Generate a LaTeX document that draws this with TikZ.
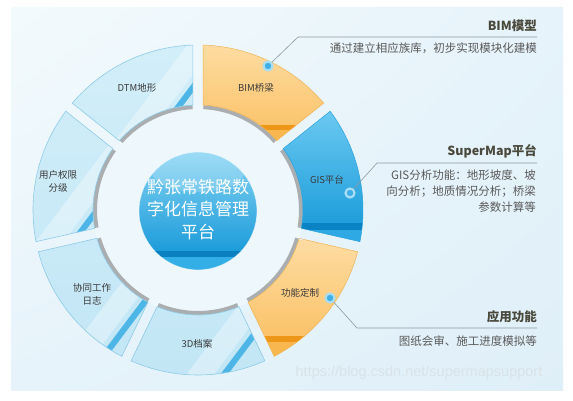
\documentclass[tikz,border=0pt]{standalone}
\usepackage{fontspec}
\setmainfont{Noto Sans CJK SC}
\newfontfamily\wmfont{Liberation Sans}
\usetikzlibrary{calc,shadings}
\definecolor{bgUL}{HTML}{F3FAFD}
\definecolor{bgUR}{HTML}{E6F3FA}
\definecolor{bgLL}{HTML}{E6F3FA}
\definecolor{bgLR}{HTML}{DFEFF8}
\definecolor{diskC}{HTML}{EEF8FC}
\definecolor{segTop}{HTML}{D2EEF9}
\definecolor{segBot}{HTML}{C2E6F5}
\definecolor{segLb}{HTML}{8DCBE6}
\definecolor{stripeC}{HTML}{4DB6E6}
\definecolor{shadowC}{HTML}{ABAEB0}
\definecolor{orTop}{HTML}{FDDCA2}
\definecolor{orBot}{HTML}{FBC36A}
\definecolor{orBand}{HTML}{EE9618}
\definecolor{orLow}{HTML}{F9B84F}
\definecolor{orB}{HTML}{F0B458}
\definecolor{gisTop}{HTML}{6CC9F1}
\definecolor{gisBot}{HTML}{1E9EDB}
\definecolor{gisBand}{HTML}{0B82C3}
\definecolor{gisLow}{HTML}{2EA9E3}
\definecolor{gisB}{HTML}{2AA2DC}
\definecolor{sphTop}{HTML}{86D4F4}
\definecolor{sphBot}{HTML}{1D9CDA}
\definecolor{sphBand}{HTML}{0A80C1}
\definecolor{sphLow}{HTML}{34AEE6}
\definecolor{dotOut}{HTML}{A9DDF4}
\definecolor{dotIn}{HTML}{3FAFE7}
\definecolor{lineC}{HTML}{8C9AA3}
\definecolor{labelC}{HTML}{3A3A3A}
\definecolor{titleC}{HTML}{4A4A3C}
\definecolor{descC}{HTML}{5A5A5A}
\definecolor{wmC}{HTML}{D9E3E8}

\newcommand\segpath[2]{({#1+1.8}:165) arc[start angle={#1+1.8}, end angle={#2-1.8}, radius=165] -- ({#2-2.8}:105) arc[start angle={#2-2.8}, end angle={#1+2.8}, radius=105] -- cycle}
\newcommand\shadowarc[2]{\draw[shadowC, line width=4pt] ({#1+3}:103) arc[start angle={#1+3}, end angle={#2-3}, radius=103];}
\newcommand\lightseg[4]{%
  \shadowarc{#1}{#2}
  \begin{scope}
    \clip \segpath{#1}{#2};
    \shade[top color=segTop, bottom color=segBot] (-170,170) rectangle (170,-170);
    \fill[white, opacity=.35] ($(#3,#4)+(143:8)+(233:160)$) -- ($(#3,#4)+(143:8)+(53:160)$) -- ($(#3,#4)+(143:30)+(53:160)$) -- ($(#3,#4)+(143:30)+(233:160)$) -- cycle;
    \draw[stripeC, line width=6pt] ($(#3,#4)+(233:160)$) -- ($(#3,#4)+(53:160)$);
  \end{scope}
  \draw[segLb, line width=.6pt] \segpath{#1}{#2};
}

\tikzset{
  lab/.style={font=\fontsize{9.5}{12.5}\selectfont, text=labelC, align=center, inner sep=0pt},
  ttl/.style={font=\fontsize{12.5}{15}\selectfont\bfseries, text=titleC, anchor=east, inner sep=0pt},
  desc/.style={font=\fontsize{11.5}{16}\selectfont, text=descC, anchor=east, align=right, inner sep=0pt},
  conn/.style={draw=lineC, line width=.6pt},
  dotnode/.style={circle, fill=dotIn, draw=dotOut, line width=2.2pt, minimum size=9pt, inner sep=0pt}
}

\begin{document}
\begin{tikzpicture}[x=1pt,y=1pt]
\useasboundingbox (0,0) rectangle (573,-401);
\fill[white] (0,0) rectangle (573,-401);
\shade[upper left=bgUL, upper right=bgUR, lower left=bgLL, lower right=bgLR] (11,-8) rectangle (563,-390);

\begin{scope}[shift={(198,-210)}]
  \fill[diskC] (0,0) circle (105);
  % light segments
  \lightseg{90}{141.43}{-10}{116}
  \lightseg{141.43}{192.86}{-109}{-11}
  \lightseg{-167.14}{-115.71}{-73}{-118}
  \lightseg{-115.71}{-64.29}{43}{-142}
  % BIM (orange)
  \shadowarc{38.57}{90}
  \begin{scope}
    \clip \segpath{38.57}{90};
    \shade[top color=orTop, bottom color=orBot] (0,166) rectangle (170,80);
    \fill[orBand] (0,84.5) rectangle (170,79.5);
    \fill[orLow] (0,79.5) rectangle (170,60);
  \end{scope}
  \draw[orB, line width=.5pt] \segpath{38.57}{90};
  % GIS (blue)
  \shadowarc{-12.86}{38.57}
  \begin{scope}
    \clip \segpath{-12.86}{38.57};
    \shade[top color=gisTop, bottom color=gisBot] (0,100) rectangle (170,-14);
    \fill[gisBand] (0,-13) rectangle (170,-20);
    \fill[gisLow] (0,-20) rectangle (170,-40);
  \end{scope}
  \draw[gisB, line width=.5pt] \segpath{-12.86}{38.57};
  % function (orange)
  \shadowarc{-64.29}{-12.86}
  \begin{scope}
    \clip \segpath{-64.29}{-12.86};
    \shade[top color=orTop, bottom color=orBot] (0,-30) rectangle (170,-126);
    \fill[orBand] (0,-126) rectangle (170,-132);
    \fill[orLow] (0,-132) rectangle (170,-160);
  \end{scope}
  \draw[orB, line width=.5pt] \segpath{-64.29}{-12.86};
  % central sphere
  \begin{scope}
    \clip (0,-1) circle (59);
    \shade[top color=sphTop, bottom color=sphBot] (-60,58) rectangle (60,-41);
    \fill[sphBand] (-60,-41) rectangle (60,-47);
    \fill[sphLow] (-60,-47) rectangle (60,-61);
    \fill[white, opacity=.18] (0,38) ellipse (46 and 20);
  \end{scope}
  \draw[white, opacity=.6, line width=.8pt] (0,-1) circle (59);
\end{scope}

% central text
\node[font=\fontsize{17}{22.5}\selectfont, text=white, align=center, inner sep=0pt] (center) at (198,-209) {黔张常铁路数\\字化信息管理\\平台};

% segment labels
\node[lab] (dtm) at (137,-88) {DTM地形};
\node[lab] (bim) at (256,-88) {BIM桥梁};
\node[lab] (gis) at (327,-180) {GIS平台};
\node[lab] (func) at (300,-293) {功能定制};
\node[lab] (d3) at (197,-344) {3D档案};
\node[lab] (xt) at (92,-294.5) {协同工作\\日志};
\node[lab] (yh) at (58,-181.5) {用户权限\\分级};

% callouts
\coordinate (k1) at (298,-37);
\coordinate (e1) at (537,-37);
\coordinate (k2) at (377,-163);
\coordinate (e2) at (537,-163);
\coordinate (k3) at (357,-328);
\coordinate (e3) at (537,-328);
\coordinate (p1) at (268,-66);
\coordinate (p2) at (350,-193);
\coordinate (p3) at (330,-298);
\draw[conn] (p1) -- (k1) -- (e1);
\draw[conn] (p2) -- (k2) -- (e2);
\draw[conn] (p3) -- (k3) -- (e3);
\node[dotnode] (dot1) at (p1) {};
\node[dotnode] (dot2) at (p2) {};
\node[dotnode] (dot3) at (p3) {};

\node[ttl] (t1) at (537,-26) {BIM模型};
\node[desc] (s1) at (537,-48.5) {通过建立相应族库，初步实现模块化建模};
\node[ttl] (t2) at (537,-151) {SuperMap平台};
\node[desc] (s2) at (536,-191) {GIS分析功能：地形坡度、坡\\向分析；地质情况分析；桥梁\\参数计算等};
\node[ttl] (t3) at (537,-317) {应用功能};
\node[desc] (s3) at (537,-341) {图纸会审、施工进度模拟等};

\node[font=\wmfont\fontsize{14.5}{16}\selectfont, text=wmC, inner sep=0pt] (wm) at (419,-373) {https://blog.csdn.net/supermapsupport};
\end{tikzpicture}
\end{document}
